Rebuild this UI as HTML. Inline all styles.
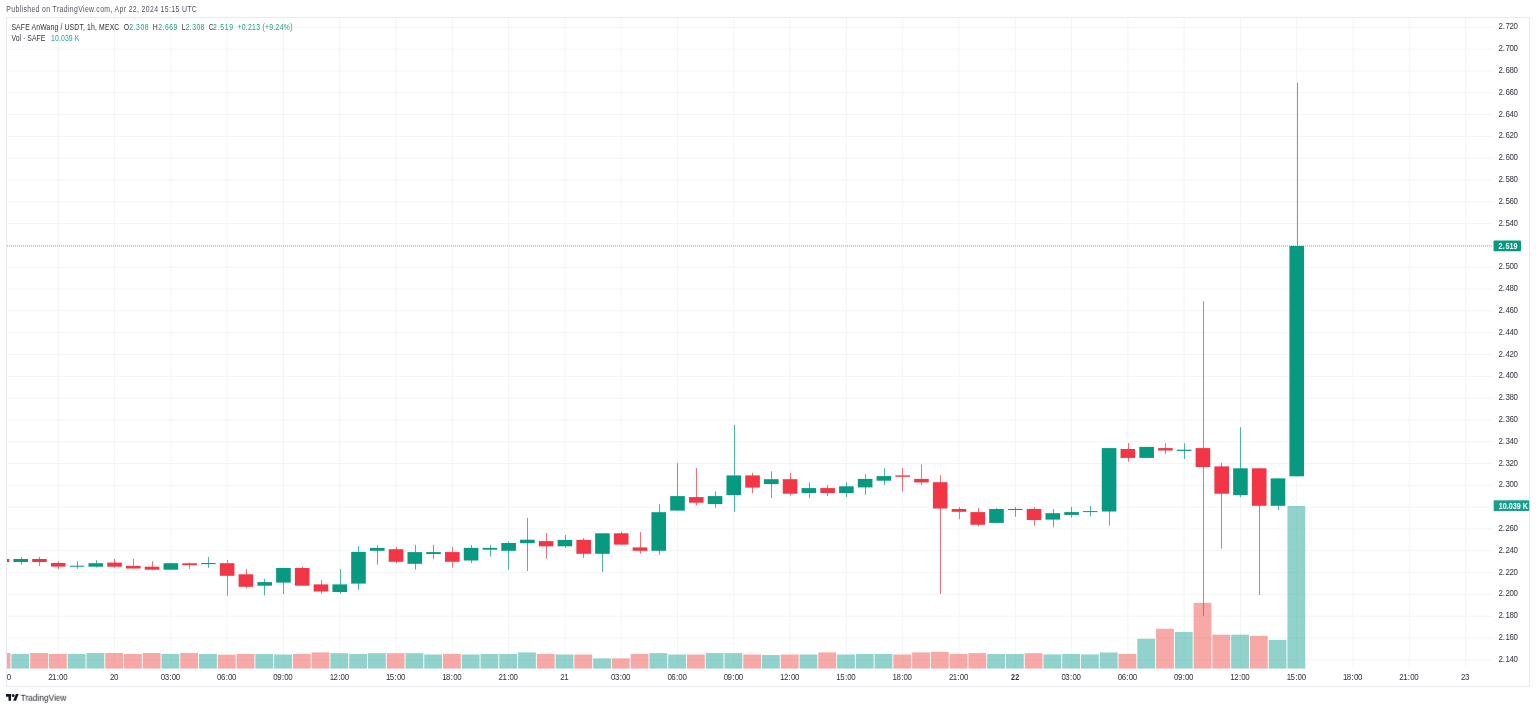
<!DOCTYPE html>
<html><head><meta charset="utf-8"><style>
html,body{margin:0;padding:0;background:#fff;width:1536px;height:709px;overflow:hidden;position:relative}
svg text{font-family:"Liberation Sans",sans-serif}
.ax{font-size:8.6px;fill:#131722}
.axb{font-size:8.6px;fill:#fff;font-weight:bold}
.axb2{font-size:8.6px;fill:#131722;font-weight:bold}
.t{position:absolute;font-family:"Liberation Sans",sans-serif;white-space:nowrap;line-height:1}
.hdr{left:6.7px;top:5px;font-size:8.4px;color:#50535e}
.lg{left:11.7px;font-size:8.4px;color:#131722}
.gr{color:#089981}
.vg{color:#22ab94}
.logo{left:21px;top:694px;font-size:8.4px;color:#131722}
</style></head><body>
<svg width="1536" height="709" viewBox="0 0 1536 709" style="position:absolute;left:0;top:0;will-change:transform">
<defs><clipPath id="pane"><rect x="7" y="18" width="1486" height="650.75"/></clipPath><clipPath id="taxis"><rect x="7" y="669" width="1486" height="17"/></clipPath></defs>
<rect x="6.5" y="17.5" width="1523" height="669" fill="#fff" stroke="#e8eaef" stroke-width="1"/>
<g clip-path="url(#pane)">
<rect x="7" y="26.80" width="1486" height="1" fill="#f3f4f4"/>
<rect x="7" y="48.61" width="1486" height="1" fill="#f3f4f4"/>
<rect x="7" y="70.42" width="1486" height="1" fill="#f3f4f4"/>
<rect x="7" y="92.23" width="1486" height="1" fill="#f3f4f4"/>
<rect x="7" y="114.04" width="1486" height="1" fill="#f3f4f4"/>
<rect x="7" y="135.85" width="1486" height="1" fill="#f3f4f4"/>
<rect x="7" y="157.66" width="1486" height="1" fill="#f3f4f4"/>
<rect x="7" y="179.47" width="1486" height="1" fill="#f3f4f4"/>
<rect x="7" y="201.28" width="1486" height="1" fill="#f3f4f4"/>
<rect x="7" y="223.09" width="1486" height="1" fill="#f3f4f4"/>
<rect x="7" y="244.90" width="1486" height="1" fill="#f3f4f4"/>
<rect x="7" y="266.71" width="1486" height="1" fill="#f3f4f4"/>
<rect x="7" y="288.52" width="1486" height="1" fill="#f3f4f4"/>
<rect x="7" y="310.33" width="1486" height="1" fill="#f3f4f4"/>
<rect x="7" y="332.14" width="1486" height="1" fill="#f3f4f4"/>
<rect x="7" y="353.95" width="1486" height="1" fill="#f3f4f4"/>
<rect x="7" y="375.76" width="1486" height="1" fill="#f3f4f4"/>
<rect x="7" y="397.57" width="1486" height="1" fill="#f3f4f4"/>
<rect x="7" y="419.38" width="1486" height="1" fill="#f3f4f4"/>
<rect x="7" y="441.19" width="1486" height="1" fill="#f3f4f4"/>
<rect x="7" y="463.00" width="1486" height="1" fill="#f3f4f4"/>
<rect x="7" y="484.81" width="1486" height="1" fill="#f3f4f4"/>
<rect x="7" y="506.62" width="1486" height="1" fill="#f3f4f4"/>
<rect x="7" y="528.43" width="1486" height="1" fill="#f3f4f4"/>
<rect x="7" y="550.24" width="1486" height="1" fill="#f3f4f4"/>
<rect x="7" y="572.05" width="1486" height="1" fill="#f3f4f4"/>
<rect x="7" y="593.86" width="1486" height="1" fill="#f3f4f4"/>
<rect x="7" y="615.67" width="1486" height="1" fill="#f3f4f4"/>
<rect x="7" y="637.48" width="1486" height="1" fill="#f3f4f4"/>
<rect x="7" y="659.29" width="1486" height="1" fill="#f3f4f4"/>
<rect x="1.45" y="18" width="1" height="650" fill="#f3f4f4"/>
<rect x="57.75" y="18" width="1" height="650" fill="#f3f4f4"/>
<rect x="114.05" y="18" width="1" height="650" fill="#f3f4f4"/>
<rect x="170.34" y="18" width="1" height="650" fill="#f3f4f4"/>
<rect x="226.63" y="18" width="1" height="650" fill="#f3f4f4"/>
<rect x="282.93" y="18" width="1" height="650" fill="#f3f4f4"/>
<rect x="339.23" y="18" width="1" height="650" fill="#f3f4f4"/>
<rect x="395.52" y="18" width="1" height="650" fill="#f3f4f4"/>
<rect x="451.81" y="18" width="1" height="650" fill="#f3f4f4"/>
<rect x="508.11" y="18" width="1" height="650" fill="#f3f4f4"/>
<rect x="564.40" y="18" width="1" height="650" fill="#f3f4f4"/>
<rect x="620.70" y="18" width="1" height="650" fill="#f3f4f4"/>
<rect x="677.00" y="18" width="1" height="650" fill="#f3f4f4"/>
<rect x="733.29" y="18" width="1" height="650" fill="#f3f4f4"/>
<rect x="789.59" y="18" width="1" height="650" fill="#f3f4f4"/>
<rect x="845.88" y="18" width="1" height="650" fill="#f3f4f4"/>
<rect x="902.18" y="18" width="1" height="650" fill="#f3f4f4"/>
<rect x="958.47" y="18" width="1" height="650" fill="#f3f4f4"/>
<rect x="1014.76" y="18" width="1" height="650" fill="#f3f4f4"/>
<rect x="1071.06" y="18" width="1" height="650" fill="#f3f4f4"/>
<rect x="1127.36" y="18" width="1" height="650" fill="#f3f4f4"/>
<rect x="1183.65" y="18" width="1" height="650" fill="#f3f4f4"/>
<rect x="1239.94" y="18" width="1" height="650" fill="#f3f4f4"/>
<rect x="1296.24" y="18" width="1" height="650" fill="#f3f4f4"/>
<rect x="1352.54" y="18" width="1" height="650" fill="#f3f4f4"/>
<rect x="1408.83" y="18" width="1" height="650" fill="#f3f4f4"/>
<rect x="1465.12" y="18" width="1" height="650" fill="#f3f4f4"/>
<rect x="-7.35" y="653.00" width="17.8" height="15.75" fill="rgba(239,83,80,0.5)"/>
<rect x="11.42" y="654.00" width="17.8" height="14.75" fill="rgba(38,166,154,0.5)"/>
<rect x="30.19" y="653.00" width="17.8" height="15.75" fill="rgba(239,83,80,0.5)"/>
<rect x="48.95" y="654.00" width="17.8" height="14.75" fill="rgba(239,83,80,0.5)"/>
<rect x="67.71" y="654.00" width="17.8" height="14.75" fill="rgba(38,166,154,0.5)"/>
<rect x="86.48" y="653.00" width="17.8" height="15.75" fill="rgba(38,166,154,0.5)"/>
<rect x="105.24" y="653.00" width="17.8" height="15.75" fill="rgba(239,83,80,0.5)"/>
<rect x="124.01" y="654.00" width="17.8" height="14.75" fill="rgba(239,83,80,0.5)"/>
<rect x="142.77" y="653.00" width="17.8" height="15.75" fill="rgba(239,83,80,0.5)"/>
<rect x="161.54" y="654.00" width="17.8" height="14.75" fill="rgba(38,166,154,0.5)"/>
<rect x="180.31" y="653.00" width="17.8" height="15.75" fill="rgba(239,83,80,0.5)"/>
<rect x="199.07" y="654.00" width="17.8" height="14.75" fill="rgba(38,166,154,0.5)"/>
<rect x="217.83" y="654.70" width="17.8" height="14.05" fill="rgba(239,83,80,0.5)"/>
<rect x="236.60" y="654.00" width="17.8" height="14.75" fill="rgba(239,83,80,0.5)"/>
<rect x="255.37" y="654.00" width="17.8" height="14.75" fill="rgba(38,166,154,0.5)"/>
<rect x="274.13" y="654.50" width="17.8" height="14.25" fill="rgba(38,166,154,0.5)"/>
<rect x="292.90" y="654.00" width="17.8" height="14.75" fill="rgba(239,83,80,0.5)"/>
<rect x="311.66" y="652.40" width="17.8" height="16.35" fill="rgba(239,83,80,0.5)"/>
<rect x="330.43" y="653.20" width="17.8" height="15.55" fill="rgba(38,166,154,0.5)"/>
<rect x="349.19" y="654.00" width="17.8" height="14.75" fill="rgba(38,166,154,0.5)"/>
<rect x="367.96" y="653.20" width="17.8" height="15.55" fill="rgba(38,166,154,0.5)"/>
<rect x="386.72" y="653.20" width="17.8" height="15.55" fill="rgba(239,83,80,0.5)"/>
<rect x="405.49" y="653.20" width="17.8" height="15.55" fill="rgba(38,166,154,0.5)"/>
<rect x="424.25" y="654.50" width="17.8" height="14.25" fill="rgba(38,166,154,0.5)"/>
<rect x="443.02" y="654.00" width="17.8" height="14.75" fill="rgba(239,83,80,0.5)"/>
<rect x="461.78" y="654.50" width="17.8" height="14.25" fill="rgba(38,166,154,0.5)"/>
<rect x="480.55" y="654.00" width="17.8" height="14.75" fill="rgba(38,166,154,0.5)"/>
<rect x="499.31" y="654.00" width="17.8" height="14.75" fill="rgba(38,166,154,0.5)"/>
<rect x="518.08" y="652.40" width="17.8" height="16.35" fill="rgba(38,166,154,0.5)"/>
<rect x="536.84" y="654.00" width="17.8" height="14.75" fill="rgba(239,83,80,0.5)"/>
<rect x="555.61" y="654.50" width="17.8" height="14.25" fill="rgba(38,166,154,0.5)"/>
<rect x="574.37" y="654.50" width="17.8" height="14.25" fill="rgba(239,83,80,0.5)"/>
<rect x="593.14" y="658.40" width="17.8" height="10.35" fill="rgba(38,166,154,0.5)"/>
<rect x="611.90" y="658.40" width="17.8" height="10.35" fill="rgba(239,83,80,0.5)"/>
<rect x="630.67" y="654.00" width="17.8" height="14.75" fill="rgba(239,83,80,0.5)"/>
<rect x="649.43" y="653.10" width="17.8" height="15.65" fill="rgba(38,166,154,0.5)"/>
<rect x="668.20" y="654.50" width="17.8" height="14.25" fill="rgba(38,166,154,0.5)"/>
<rect x="686.96" y="654.50" width="17.8" height="14.25" fill="rgba(239,83,80,0.5)"/>
<rect x="705.73" y="653.10" width="17.8" height="15.65" fill="rgba(38,166,154,0.5)"/>
<rect x="724.49" y="653.10" width="17.8" height="15.65" fill="rgba(38,166,154,0.5)"/>
<rect x="743.26" y="654.50" width="17.8" height="14.25" fill="rgba(239,83,80,0.5)"/>
<rect x="762.02" y="655.00" width="17.8" height="13.75" fill="rgba(38,166,154,0.5)"/>
<rect x="780.79" y="654.50" width="17.8" height="14.25" fill="rgba(239,83,80,0.5)"/>
<rect x="799.55" y="654.50" width="17.8" height="14.25" fill="rgba(38,166,154,0.5)"/>
<rect x="818.32" y="652.40" width="17.8" height="16.35" fill="rgba(239,83,80,0.5)"/>
<rect x="837.08" y="654.50" width="17.8" height="14.25" fill="rgba(38,166,154,0.5)"/>
<rect x="855.85" y="654.00" width="17.8" height="14.75" fill="rgba(38,166,154,0.5)"/>
<rect x="874.61" y="654.00" width="17.8" height="14.75" fill="rgba(38,166,154,0.5)"/>
<rect x="893.38" y="654.50" width="17.8" height="14.25" fill="rgba(239,83,80,0.5)"/>
<rect x="912.14" y="652.40" width="17.8" height="16.35" fill="rgba(239,83,80,0.5)"/>
<rect x="930.91" y="651.90" width="17.8" height="16.85" fill="rgba(239,83,80,0.5)"/>
<rect x="949.67" y="654.00" width="17.8" height="14.75" fill="rgba(239,83,80,0.5)"/>
<rect x="968.44" y="653.10" width="17.8" height="15.65" fill="rgba(239,83,80,0.5)"/>
<rect x="987.20" y="654.00" width="17.8" height="14.75" fill="rgba(38,166,154,0.5)"/>
<rect x="1005.97" y="654.00" width="17.8" height="14.75" fill="rgba(38,166,154,0.5)"/>
<rect x="1024.73" y="653.20" width="17.8" height="15.55" fill="rgba(239,83,80,0.5)"/>
<rect x="1043.49" y="654.40" width="17.8" height="14.35" fill="rgba(38,166,154,0.5)"/>
<rect x="1062.26" y="653.90" width="17.8" height="14.85" fill="rgba(38,166,154,0.5)"/>
<rect x="1081.02" y="654.40" width="17.8" height="14.35" fill="rgba(38,166,154,0.5)"/>
<rect x="1099.79" y="652.50" width="17.8" height="16.25" fill="rgba(38,166,154,0.5)"/>
<rect x="1118.55" y="653.90" width="17.8" height="14.85" fill="rgba(239,83,80,0.5)"/>
<rect x="1137.32" y="638.80" width="17.8" height="29.95" fill="rgba(38,166,154,0.5)"/>
<rect x="1156.08" y="628.80" width="17.8" height="39.95" fill="rgba(239,83,80,0.5)"/>
<rect x="1174.85" y="632.00" width="17.8" height="36.75" fill="rgba(38,166,154,0.5)"/>
<rect x="1193.61" y="602.90" width="17.8" height="65.85" fill="rgba(239,83,80,0.5)"/>
<rect x="1212.38" y="634.70" width="17.8" height="34.05" fill="rgba(239,83,80,0.5)"/>
<rect x="1231.14" y="634.70" width="17.8" height="34.05" fill="rgba(38,166,154,0.5)"/>
<rect x="1249.91" y="635.90" width="17.8" height="32.85" fill="rgba(239,83,80,0.5)"/>
<rect x="1268.67" y="639.90" width="17.8" height="28.85" fill="rgba(38,166,154,0.5)"/>
<rect x="1287.44" y="506.00" width="17.8" height="162.75" fill="rgba(38,166,154,0.5)"/>
<line x1="7" y1="246" x2="1493" y2="246" stroke="#089981" stroke-width="1" stroke-dasharray="1 1" opacity="0.6"/>
<rect x="2" y="559.00" width="1" height="3.00" fill="#f23645" opacity="0.72"/>
<rect x="-5.35" y="559.00" width="14.6" height="3.00" fill="#f23645"/>
<rect x="21" y="557.00" width="1" height="7.70" fill="#089981" opacity="0.72"/>
<rect x="13.42" y="559.00" width="14.6" height="3.00" fill="#089981"/>
<rect x="39" y="557.00" width="1" height="9.00" fill="#f23645" opacity="0.72"/>
<rect x="32.19" y="559.00" width="14.6" height="3.00" fill="#f23645"/>
<rect x="58" y="561.30" width="1" height="7.60" fill="#f23645" opacity="0.72"/>
<rect x="50.95" y="563.00" width="14.6" height="3.60" fill="#f23645"/>
<rect x="77" y="561.25" width="1" height="7.55" fill="#089981" opacity="0.72"/>
<rect x="69.72" y="565.70" width="14.6" height="1.00" fill="#089981"/>
<rect x="96" y="560.20" width="1" height="7.30" fill="#089981" opacity="0.72"/>
<rect x="88.48" y="563.20" width="14.6" height="3.50" fill="#089981"/>
<rect x="114" y="558.90" width="1" height="8.90" fill="#f23645" opacity="0.72"/>
<rect x="107.25" y="562.60" width="14.6" height="4.10" fill="#f23645"/>
<rect x="133" y="558.90" width="1" height="9.60" fill="#f23645" opacity="0.72"/>
<rect x="126.01" y="565.90" width="14.6" height="2.60" fill="#f23645"/>
<rect x="152" y="561.25" width="1" height="8.45" fill="#f23645" opacity="0.72"/>
<rect x="144.77" y="566.70" width="14.6" height="3.00" fill="#f23645"/>
<rect x="171" y="563.20" width="1" height="6.50" fill="#089981" opacity="0.72"/>
<rect x="163.54" y="563.20" width="14.6" height="6.50" fill="#089981"/>
<rect x="189" y="562.30" width="1" height="6.50" fill="#f23645" opacity="0.72"/>
<rect x="182.31" y="563.30" width="14.6" height="1.90" fill="#f23645"/>
<rect x="208" y="557.00" width="1" height="10.80" fill="#089981" opacity="0.72"/>
<rect x="201.07" y="563.00" width="14.6" height="1.10" fill="#089981"/>
<rect x="227" y="560.00" width="1" height="35.80" fill="#f23645" opacity="0.72"/>
<rect x="219.83" y="563.20" width="14.6" height="12.60" fill="#f23645"/>
<rect x="246" y="569.00" width="1" height="19.30" fill="#f23645" opacity="0.72"/>
<rect x="238.60" y="574.30" width="14.6" height="12.50" fill="#f23645"/>
<rect x="264" y="578.80" width="1" height="16.60" fill="#089981" opacity="0.72"/>
<rect x="257.37" y="582.10" width="14.6" height="3.60" fill="#089981"/>
<rect x="283" y="568.00" width="1" height="26.00" fill="#089981" opacity="0.72"/>
<rect x="276.13" y="568.00" width="14.6" height="14.60" fill="#089981"/>
<rect x="302" y="566.50" width="1" height="19.20" fill="#f23645" opacity="0.72"/>
<rect x="294.89" y="568.00" width="14.6" height="17.70" fill="#f23645"/>
<rect x="321" y="579.90" width="1" height="13.90" fill="#f23645" opacity="0.72"/>
<rect x="313.66" y="584.40" width="14.6" height="7.10" fill="#f23645"/>
<rect x="340" y="569.00" width="1" height="24.80" fill="#089981" opacity="0.72"/>
<rect x="332.43" y="584.40" width="14.6" height="7.60" fill="#089981"/>
<rect x="358" y="546.00" width="1" height="43.90" fill="#089981" opacity="0.72"/>
<rect x="351.19" y="551.90" width="14.6" height="31.70" fill="#089981"/>
<rect x="377" y="544.90" width="1" height="19.60" fill="#089981" opacity="0.72"/>
<rect x="369.95" y="547.90" width="14.6" height="2.90" fill="#089981"/>
<rect x="396" y="547.10" width="1" height="16.10" fill="#f23645" opacity="0.72"/>
<rect x="388.72" y="549.20" width="14.6" height="12.60" fill="#f23645"/>
<rect x="415" y="544.90" width="1" height="24.80" fill="#089981" opacity="0.72"/>
<rect x="407.49" y="552.10" width="14.6" height="11.70" fill="#089981"/>
<rect x="433" y="544.90" width="1" height="14.00" fill="#089981" opacity="0.72"/>
<rect x="426.25" y="552.10" width="14.6" height="1.90" fill="#089981"/>
<rect x="452" y="547.10" width="1" height="20.60" fill="#f23645" opacity="0.72"/>
<rect x="445.01" y="552.10" width="14.6" height="9.70" fill="#f23645"/>
<rect x="471" y="544.90" width="1" height="18.30" fill="#089981" opacity="0.72"/>
<rect x="463.78" y="547.90" width="14.6" height="12.60" fill="#089981"/>
<rect x="490" y="544.90" width="1" height="11.70" fill="#089981" opacity="0.72"/>
<rect x="482.55" y="547.90" width="14.6" height="1.80" fill="#089981"/>
<rect x="508" y="541.40" width="1" height="28.30" fill="#089981" opacity="0.72"/>
<rect x="501.31" y="543.00" width="14.6" height="7.80" fill="#089981"/>
<rect x="527" y="518.00" width="1" height="53.00" fill="#089981" opacity="0.72"/>
<rect x="520.08" y="539.70" width="14.6" height="3.50" fill="#089981"/>
<rect x="546" y="532.90" width="1" height="25.80" fill="#f23645" opacity="0.72"/>
<rect x="538.84" y="541.10" width="14.6" height="5.20" fill="#f23645"/>
<rect x="565" y="535.00" width="1" height="12.70" fill="#089981" opacity="0.72"/>
<rect x="557.61" y="539.90" width="14.6" height="6.40" fill="#089981"/>
<rect x="583" y="538.10" width="1" height="19.90" fill="#f23645" opacity="0.72"/>
<rect x="576.37" y="539.90" width="14.6" height="13.90" fill="#f23645"/>
<rect x="602" y="533.30" width="1" height="38.70" fill="#089981" opacity="0.72"/>
<rect x="595.14" y="533.30" width="14.6" height="20.50" fill="#089981"/>
<rect x="621" y="531.90" width="1" height="12.70" fill="#f23645" opacity="0.72"/>
<rect x="613.90" y="533.30" width="14.6" height="11.30" fill="#f23645"/>
<rect x="640" y="531.90" width="1" height="21.70" fill="#f23645" opacity="0.72"/>
<rect x="632.67" y="547.40" width="14.6" height="3.40" fill="#f23645"/>
<rect x="659" y="504.30" width="1" height="50.50" fill="#089981" opacity="0.72"/>
<rect x="651.43" y="512.20" width="14.6" height="38.60" fill="#089981"/>
<rect x="677" y="463.20" width="1" height="47.40" fill="#089981" opacity="0.72"/>
<rect x="670.20" y="496.10" width="14.6" height="14.50" fill="#089981"/>
<rect x="696" y="467.90" width="1" height="37.40" fill="#f23645" opacity="0.72"/>
<rect x="688.96" y="497.10" width="14.6" height="5.60" fill="#f23645"/>
<rect x="715" y="491.40" width="1" height="16.40" fill="#089981" opacity="0.72"/>
<rect x="707.73" y="496.10" width="14.6" height="8.00" fill="#089981"/>
<rect x="734" y="424.90" width="1" height="87.10" fill="#089981" opacity="0.72"/>
<rect x="726.49" y="475.40" width="14.6" height="19.60" fill="#089981"/>
<rect x="752" y="472.80" width="1" height="20.50" fill="#f23645" opacity="0.72"/>
<rect x="745.26" y="475.40" width="14.6" height="12.20" fill="#f23645"/>
<rect x="771" y="471.40" width="1" height="26.50" fill="#089981" opacity="0.72"/>
<rect x="764.02" y="479.20" width="14.6" height="4.90" fill="#089981"/>
<rect x="790" y="472.80" width="1" height="22.90" fill="#f23645" opacity="0.72"/>
<rect x="782.79" y="479.20" width="14.6" height="14.50" fill="#f23645"/>
<rect x="809" y="482.40" width="1" height="15.50" fill="#089981" opacity="0.72"/>
<rect x="801.55" y="488.10" width="14.6" height="4.90" fill="#089981"/>
<rect x="827" y="484.80" width="1" height="11.30" fill="#f23645" opacity="0.72"/>
<rect x="820.32" y="488.10" width="14.6" height="4.90" fill="#f23645"/>
<rect x="846" y="482.50" width="1" height="14.50" fill="#089981" opacity="0.72"/>
<rect x="839.08" y="486.30" width="14.6" height="6.70" fill="#089981"/>
<rect x="865" y="474.30" width="1" height="20.60" fill="#089981" opacity="0.72"/>
<rect x="857.85" y="478.90" width="14.6" height="8.50" fill="#089981"/>
<rect x="884" y="468.30" width="1" height="16.70" fill="#089981" opacity="0.72"/>
<rect x="876.61" y="476.10" width="14.6" height="4.60" fill="#089981"/>
<rect x="902" y="468.00" width="1" height="23.60" fill="#f23645" opacity="0.72"/>
<rect x="895.38" y="475.40" width="14.6" height="1.40" fill="#f23645"/>
<rect x="921" y="464.40" width="1" height="20.60" fill="#f23645" opacity="0.72"/>
<rect x="914.14" y="478.90" width="14.6" height="3.50" fill="#f23645"/>
<rect x="940" y="475.40" width="1" height="118.60" fill="#f23645" opacity="0.72"/>
<rect x="932.91" y="482.20" width="14.6" height="26.30" fill="#f23645"/>
<rect x="959" y="507.10" width="1" height="12.00" fill="#f23645" opacity="0.72"/>
<rect x="951.67" y="509.00" width="14.6" height="2.80" fill="#f23645"/>
<rect x="978" y="508.10" width="1" height="18.10" fill="#f23645" opacity="0.72"/>
<rect x="970.44" y="512.10" width="14.6" height="12.65" fill="#f23645"/>
<rect x="996" y="508.10" width="1" height="14.80" fill="#089981" opacity="0.72"/>
<rect x="989.20" y="509.00" width="14.6" height="13.90" fill="#089981"/>
<rect x="1015" y="507.10" width="1" height="9.50" fill="#089981" opacity="0.72"/>
<rect x="1007.97" y="509.00" width="14.6" height="1.00" fill="#089981"/>
<rect x="1034" y="507.30" width="1" height="18.60" fill="#f23645" opacity="0.72"/>
<rect x="1026.73" y="509.00" width="14.6" height="11.00" fill="#f23645"/>
<rect x="1053" y="509.00" width="1" height="18.30" fill="#089981" opacity="0.72"/>
<rect x="1045.50" y="513.20" width="14.6" height="6.40" fill="#089981"/>
<rect x="1071" y="506.90" width="1" height="10.80" fill="#089981" opacity="0.72"/>
<rect x="1064.26" y="512.10" width="14.6" height="2.80" fill="#089981"/>
<rect x="1090" y="505.90" width="1" height="10.40" fill="#089981" opacity="0.72"/>
<rect x="1083.03" y="511.10" width="14.6" height="1.00" fill="#089981"/>
<rect x="1109" y="448.10" width="1" height="77.50" fill="#089981" opacity="0.72"/>
<rect x="1101.79" y="448.10" width="14.6" height="63.40" fill="#089981"/>
<rect x="1128" y="443.00" width="1" height="18.70" fill="#f23645" opacity="0.72"/>
<rect x="1120.56" y="449.00" width="14.6" height="8.90" fill="#f23645"/>
<rect x="1146" y="446.90" width="1" height="11.00" fill="#089981" opacity="0.72"/>
<rect x="1139.32" y="446.90" width="14.6" height="11.00" fill="#089981"/>
<rect x="1165" y="443.00" width="1" height="11.00" fill="#f23645" opacity="0.72"/>
<rect x="1158.09" y="448.10" width="14.6" height="2.40" fill="#f23645"/>
<rect x="1184" y="443.40" width="1" height="15.50" fill="#089981" opacity="0.72"/>
<rect x="1176.85" y="449.70" width="14.6" height="1.20" fill="#089981"/>
<rect x="1203" y="301.30" width="1" height="314.50" fill="#f23645" opacity="0.72"/>
<rect x="1195.62" y="448.10" width="14.6" height="18.90" fill="#f23645"/>
<rect x="1221" y="462.90" width="1" height="85.80" fill="#f23645" opacity="0.72"/>
<rect x="1214.38" y="466.40" width="14.6" height="27.30" fill="#f23645"/>
<rect x="1240" y="427.20" width="1" height="70.00" fill="#089981" opacity="0.72"/>
<rect x="1233.14" y="468.30" width="14.6" height="26.80" fill="#089981"/>
<rect x="1259" y="468.30" width="1" height="126.70" fill="#f23645" opacity="0.72"/>
<rect x="1251.91" y="468.30" width="14.6" height="37.50" fill="#f23645"/>
<rect x="1278" y="478.40" width="1" height="31.40" fill="#089981" opacity="0.72"/>
<rect x="1270.68" y="478.40" width="14.6" height="27.40" fill="#089981"/>
<rect x="1297" y="82.70" width="1" height="393.60" fill="#089981" opacity="0.72"/>
<rect x="1289.44" y="246.00" width="14.6" height="230.30" fill="#089981"/>
</g>
<text transform="translate(1500.65,29.40) scale(0.860,1)" text-anchor="middle" fill="#30333c" font-size="9.2" font-weight="normal">2</text><text transform="translate(1503.75,29.40) scale(0.860,1)" text-anchor="middle" fill="#30333c" font-size="9.2" font-weight="normal">.</text><text transform="translate(1507.60,29.40) scale(0.860,1)" text-anchor="middle" fill="#30333c" font-size="9.2" font-weight="normal">7</text><text transform="translate(1511.65,29.40) scale(0.860,1)" text-anchor="middle" fill="#30333c" font-size="9.2" font-weight="normal">2</text><text transform="translate(1515.70,29.40) scale(0.860,1)" text-anchor="middle" fill="#30333c" font-size="9.2" font-weight="normal">0</text>
<text transform="translate(1500.65,51.21) scale(0.860,1)" text-anchor="middle" fill="#30333c" font-size="9.2" font-weight="normal">2</text><text transform="translate(1503.75,51.21) scale(0.860,1)" text-anchor="middle" fill="#30333c" font-size="9.2" font-weight="normal">.</text><text transform="translate(1507.60,51.21) scale(0.860,1)" text-anchor="middle" fill="#30333c" font-size="9.2" font-weight="normal">7</text><text transform="translate(1511.65,51.21) scale(0.860,1)" text-anchor="middle" fill="#30333c" font-size="9.2" font-weight="normal">0</text><text transform="translate(1515.70,51.21) scale(0.860,1)" text-anchor="middle" fill="#30333c" font-size="9.2" font-weight="normal">0</text>
<text transform="translate(1500.65,73.02) scale(0.860,1)" text-anchor="middle" fill="#30333c" font-size="9.2" font-weight="normal">2</text><text transform="translate(1503.75,73.02) scale(0.860,1)" text-anchor="middle" fill="#30333c" font-size="9.2" font-weight="normal">.</text><text transform="translate(1507.60,73.02) scale(0.860,1)" text-anchor="middle" fill="#30333c" font-size="9.2" font-weight="normal">6</text><text transform="translate(1511.65,73.02) scale(0.860,1)" text-anchor="middle" fill="#30333c" font-size="9.2" font-weight="normal">8</text><text transform="translate(1515.70,73.02) scale(0.860,1)" text-anchor="middle" fill="#30333c" font-size="9.2" font-weight="normal">0</text>
<text transform="translate(1500.65,94.83) scale(0.860,1)" text-anchor="middle" fill="#30333c" font-size="9.2" font-weight="normal">2</text><text transform="translate(1503.75,94.83) scale(0.860,1)" text-anchor="middle" fill="#30333c" font-size="9.2" font-weight="normal">.</text><text transform="translate(1507.60,94.83) scale(0.860,1)" text-anchor="middle" fill="#30333c" font-size="9.2" font-weight="normal">6</text><text transform="translate(1511.65,94.83) scale(0.860,1)" text-anchor="middle" fill="#30333c" font-size="9.2" font-weight="normal">6</text><text transform="translate(1515.70,94.83) scale(0.860,1)" text-anchor="middle" fill="#30333c" font-size="9.2" font-weight="normal">0</text>
<text transform="translate(1500.65,116.64) scale(0.860,1)" text-anchor="middle" fill="#30333c" font-size="9.2" font-weight="normal">2</text><text transform="translate(1503.75,116.64) scale(0.860,1)" text-anchor="middle" fill="#30333c" font-size="9.2" font-weight="normal">.</text><text transform="translate(1507.60,116.64) scale(0.860,1)" text-anchor="middle" fill="#30333c" font-size="9.2" font-weight="normal">6</text><text transform="translate(1511.65,116.64) scale(0.860,1)" text-anchor="middle" fill="#30333c" font-size="9.2" font-weight="normal">4</text><text transform="translate(1515.70,116.64) scale(0.860,1)" text-anchor="middle" fill="#30333c" font-size="9.2" font-weight="normal">0</text>
<text transform="translate(1500.65,138.45) scale(0.860,1)" text-anchor="middle" fill="#30333c" font-size="9.2" font-weight="normal">2</text><text transform="translate(1503.75,138.45) scale(0.860,1)" text-anchor="middle" fill="#30333c" font-size="9.2" font-weight="normal">.</text><text transform="translate(1507.60,138.45) scale(0.860,1)" text-anchor="middle" fill="#30333c" font-size="9.2" font-weight="normal">6</text><text transform="translate(1511.65,138.45) scale(0.860,1)" text-anchor="middle" fill="#30333c" font-size="9.2" font-weight="normal">2</text><text transform="translate(1515.70,138.45) scale(0.860,1)" text-anchor="middle" fill="#30333c" font-size="9.2" font-weight="normal">0</text>
<text transform="translate(1500.65,160.26) scale(0.860,1)" text-anchor="middle" fill="#30333c" font-size="9.2" font-weight="normal">2</text><text transform="translate(1503.75,160.26) scale(0.860,1)" text-anchor="middle" fill="#30333c" font-size="9.2" font-weight="normal">.</text><text transform="translate(1507.60,160.26) scale(0.860,1)" text-anchor="middle" fill="#30333c" font-size="9.2" font-weight="normal">6</text><text transform="translate(1511.65,160.26) scale(0.860,1)" text-anchor="middle" fill="#30333c" font-size="9.2" font-weight="normal">0</text><text transform="translate(1515.70,160.26) scale(0.860,1)" text-anchor="middle" fill="#30333c" font-size="9.2" font-weight="normal">0</text>
<text transform="translate(1500.65,182.07) scale(0.860,1)" text-anchor="middle" fill="#30333c" font-size="9.2" font-weight="normal">2</text><text transform="translate(1503.75,182.07) scale(0.860,1)" text-anchor="middle" fill="#30333c" font-size="9.2" font-weight="normal">.</text><text transform="translate(1507.60,182.07) scale(0.860,1)" text-anchor="middle" fill="#30333c" font-size="9.2" font-weight="normal">5</text><text transform="translate(1511.65,182.07) scale(0.860,1)" text-anchor="middle" fill="#30333c" font-size="9.2" font-weight="normal">8</text><text transform="translate(1515.70,182.07) scale(0.860,1)" text-anchor="middle" fill="#30333c" font-size="9.2" font-weight="normal">0</text>
<text transform="translate(1500.65,203.88) scale(0.860,1)" text-anchor="middle" fill="#30333c" font-size="9.2" font-weight="normal">2</text><text transform="translate(1503.75,203.88) scale(0.860,1)" text-anchor="middle" fill="#30333c" font-size="9.2" font-weight="normal">.</text><text transform="translate(1507.60,203.88) scale(0.860,1)" text-anchor="middle" fill="#30333c" font-size="9.2" font-weight="normal">5</text><text transform="translate(1511.65,203.88) scale(0.860,1)" text-anchor="middle" fill="#30333c" font-size="9.2" font-weight="normal">6</text><text transform="translate(1515.70,203.88) scale(0.860,1)" text-anchor="middle" fill="#30333c" font-size="9.2" font-weight="normal">0</text>
<text transform="translate(1500.65,225.69) scale(0.860,1)" text-anchor="middle" fill="#30333c" font-size="9.2" font-weight="normal">2</text><text transform="translate(1503.75,225.69) scale(0.860,1)" text-anchor="middle" fill="#30333c" font-size="9.2" font-weight="normal">.</text><text transform="translate(1507.60,225.69) scale(0.860,1)" text-anchor="middle" fill="#30333c" font-size="9.2" font-weight="normal">5</text><text transform="translate(1511.65,225.69) scale(0.860,1)" text-anchor="middle" fill="#30333c" font-size="9.2" font-weight="normal">4</text><text transform="translate(1515.70,225.69) scale(0.860,1)" text-anchor="middle" fill="#30333c" font-size="9.2" font-weight="normal">0</text>
<text transform="translate(1500.65,269.31) scale(0.860,1)" text-anchor="middle" fill="#30333c" font-size="9.2" font-weight="normal">2</text><text transform="translate(1503.75,269.31) scale(0.860,1)" text-anchor="middle" fill="#30333c" font-size="9.2" font-weight="normal">.</text><text transform="translate(1507.60,269.31) scale(0.860,1)" text-anchor="middle" fill="#30333c" font-size="9.2" font-weight="normal">5</text><text transform="translate(1511.65,269.31) scale(0.860,1)" text-anchor="middle" fill="#30333c" font-size="9.2" font-weight="normal">0</text><text transform="translate(1515.70,269.31) scale(0.860,1)" text-anchor="middle" fill="#30333c" font-size="9.2" font-weight="normal">0</text>
<text transform="translate(1500.65,291.12) scale(0.860,1)" text-anchor="middle" fill="#30333c" font-size="9.2" font-weight="normal">2</text><text transform="translate(1503.75,291.12) scale(0.860,1)" text-anchor="middle" fill="#30333c" font-size="9.2" font-weight="normal">.</text><text transform="translate(1507.60,291.12) scale(0.860,1)" text-anchor="middle" fill="#30333c" font-size="9.2" font-weight="normal">4</text><text transform="translate(1511.65,291.12) scale(0.860,1)" text-anchor="middle" fill="#30333c" font-size="9.2" font-weight="normal">8</text><text transform="translate(1515.70,291.12) scale(0.860,1)" text-anchor="middle" fill="#30333c" font-size="9.2" font-weight="normal">0</text>
<text transform="translate(1500.65,312.93) scale(0.860,1)" text-anchor="middle" fill="#30333c" font-size="9.2" font-weight="normal">2</text><text transform="translate(1503.75,312.93) scale(0.860,1)" text-anchor="middle" fill="#30333c" font-size="9.2" font-weight="normal">.</text><text transform="translate(1507.60,312.93) scale(0.860,1)" text-anchor="middle" fill="#30333c" font-size="9.2" font-weight="normal">4</text><text transform="translate(1511.65,312.93) scale(0.860,1)" text-anchor="middle" fill="#30333c" font-size="9.2" font-weight="normal">6</text><text transform="translate(1515.70,312.93) scale(0.860,1)" text-anchor="middle" fill="#30333c" font-size="9.2" font-weight="normal">0</text>
<text transform="translate(1500.65,334.74) scale(0.860,1)" text-anchor="middle" fill="#30333c" font-size="9.2" font-weight="normal">2</text><text transform="translate(1503.75,334.74) scale(0.860,1)" text-anchor="middle" fill="#30333c" font-size="9.2" font-weight="normal">.</text><text transform="translate(1507.60,334.74) scale(0.860,1)" text-anchor="middle" fill="#30333c" font-size="9.2" font-weight="normal">4</text><text transform="translate(1511.65,334.74) scale(0.860,1)" text-anchor="middle" fill="#30333c" font-size="9.2" font-weight="normal">4</text><text transform="translate(1515.70,334.74) scale(0.860,1)" text-anchor="middle" fill="#30333c" font-size="9.2" font-weight="normal">0</text>
<text transform="translate(1500.65,356.55) scale(0.860,1)" text-anchor="middle" fill="#30333c" font-size="9.2" font-weight="normal">2</text><text transform="translate(1503.75,356.55) scale(0.860,1)" text-anchor="middle" fill="#30333c" font-size="9.2" font-weight="normal">.</text><text transform="translate(1507.60,356.55) scale(0.860,1)" text-anchor="middle" fill="#30333c" font-size="9.2" font-weight="normal">4</text><text transform="translate(1511.65,356.55) scale(0.860,1)" text-anchor="middle" fill="#30333c" font-size="9.2" font-weight="normal">2</text><text transform="translate(1515.70,356.55) scale(0.860,1)" text-anchor="middle" fill="#30333c" font-size="9.2" font-weight="normal">0</text>
<text transform="translate(1500.65,378.36) scale(0.860,1)" text-anchor="middle" fill="#30333c" font-size="9.2" font-weight="normal">2</text><text transform="translate(1503.75,378.36) scale(0.860,1)" text-anchor="middle" fill="#30333c" font-size="9.2" font-weight="normal">.</text><text transform="translate(1507.60,378.36) scale(0.860,1)" text-anchor="middle" fill="#30333c" font-size="9.2" font-weight="normal">4</text><text transform="translate(1511.65,378.36) scale(0.860,1)" text-anchor="middle" fill="#30333c" font-size="9.2" font-weight="normal">0</text><text transform="translate(1515.70,378.36) scale(0.860,1)" text-anchor="middle" fill="#30333c" font-size="9.2" font-weight="normal">0</text>
<text transform="translate(1500.65,400.17) scale(0.860,1)" text-anchor="middle" fill="#30333c" font-size="9.2" font-weight="normal">2</text><text transform="translate(1503.75,400.17) scale(0.860,1)" text-anchor="middle" fill="#30333c" font-size="9.2" font-weight="normal">.</text><text transform="translate(1507.60,400.17) scale(0.860,1)" text-anchor="middle" fill="#30333c" font-size="9.2" font-weight="normal">3</text><text transform="translate(1511.65,400.17) scale(0.860,1)" text-anchor="middle" fill="#30333c" font-size="9.2" font-weight="normal">8</text><text transform="translate(1515.70,400.17) scale(0.860,1)" text-anchor="middle" fill="#30333c" font-size="9.2" font-weight="normal">0</text>
<text transform="translate(1500.65,421.98) scale(0.860,1)" text-anchor="middle" fill="#30333c" font-size="9.2" font-weight="normal">2</text><text transform="translate(1503.75,421.98) scale(0.860,1)" text-anchor="middle" fill="#30333c" font-size="9.2" font-weight="normal">.</text><text transform="translate(1507.60,421.98) scale(0.860,1)" text-anchor="middle" fill="#30333c" font-size="9.2" font-weight="normal">3</text><text transform="translate(1511.65,421.98) scale(0.860,1)" text-anchor="middle" fill="#30333c" font-size="9.2" font-weight="normal">6</text><text transform="translate(1515.70,421.98) scale(0.860,1)" text-anchor="middle" fill="#30333c" font-size="9.2" font-weight="normal">0</text>
<text transform="translate(1500.65,443.79) scale(0.860,1)" text-anchor="middle" fill="#30333c" font-size="9.2" font-weight="normal">2</text><text transform="translate(1503.75,443.79) scale(0.860,1)" text-anchor="middle" fill="#30333c" font-size="9.2" font-weight="normal">.</text><text transform="translate(1507.60,443.79) scale(0.860,1)" text-anchor="middle" fill="#30333c" font-size="9.2" font-weight="normal">3</text><text transform="translate(1511.65,443.79) scale(0.860,1)" text-anchor="middle" fill="#30333c" font-size="9.2" font-weight="normal">4</text><text transform="translate(1515.70,443.79) scale(0.860,1)" text-anchor="middle" fill="#30333c" font-size="9.2" font-weight="normal">0</text>
<text transform="translate(1500.65,465.60) scale(0.860,1)" text-anchor="middle" fill="#30333c" font-size="9.2" font-weight="normal">2</text><text transform="translate(1503.75,465.60) scale(0.860,1)" text-anchor="middle" fill="#30333c" font-size="9.2" font-weight="normal">.</text><text transform="translate(1507.60,465.60) scale(0.860,1)" text-anchor="middle" fill="#30333c" font-size="9.2" font-weight="normal">3</text><text transform="translate(1511.65,465.60) scale(0.860,1)" text-anchor="middle" fill="#30333c" font-size="9.2" font-weight="normal">2</text><text transform="translate(1515.70,465.60) scale(0.860,1)" text-anchor="middle" fill="#30333c" font-size="9.2" font-weight="normal">0</text>
<text transform="translate(1500.65,487.41) scale(0.860,1)" text-anchor="middle" fill="#30333c" font-size="9.2" font-weight="normal">2</text><text transform="translate(1503.75,487.41) scale(0.860,1)" text-anchor="middle" fill="#30333c" font-size="9.2" font-weight="normal">.</text><text transform="translate(1507.60,487.41) scale(0.860,1)" text-anchor="middle" fill="#30333c" font-size="9.2" font-weight="normal">3</text><text transform="translate(1511.65,487.41) scale(0.860,1)" text-anchor="middle" fill="#30333c" font-size="9.2" font-weight="normal">0</text><text transform="translate(1515.70,487.41) scale(0.860,1)" text-anchor="middle" fill="#30333c" font-size="9.2" font-weight="normal">0</text>
<text transform="translate(1500.65,531.03) scale(0.860,1)" text-anchor="middle" fill="#30333c" font-size="9.2" font-weight="normal">2</text><text transform="translate(1503.75,531.03) scale(0.860,1)" text-anchor="middle" fill="#30333c" font-size="9.2" font-weight="normal">.</text><text transform="translate(1507.60,531.03) scale(0.860,1)" text-anchor="middle" fill="#30333c" font-size="9.2" font-weight="normal">2</text><text transform="translate(1511.65,531.03) scale(0.860,1)" text-anchor="middle" fill="#30333c" font-size="9.2" font-weight="normal">6</text><text transform="translate(1515.70,531.03) scale(0.860,1)" text-anchor="middle" fill="#30333c" font-size="9.2" font-weight="normal">0</text>
<text transform="translate(1500.65,552.84) scale(0.860,1)" text-anchor="middle" fill="#30333c" font-size="9.2" font-weight="normal">2</text><text transform="translate(1503.75,552.84) scale(0.860,1)" text-anchor="middle" fill="#30333c" font-size="9.2" font-weight="normal">.</text><text transform="translate(1507.60,552.84) scale(0.860,1)" text-anchor="middle" fill="#30333c" font-size="9.2" font-weight="normal">2</text><text transform="translate(1511.65,552.84) scale(0.860,1)" text-anchor="middle" fill="#30333c" font-size="9.2" font-weight="normal">4</text><text transform="translate(1515.70,552.84) scale(0.860,1)" text-anchor="middle" fill="#30333c" font-size="9.2" font-weight="normal">0</text>
<text transform="translate(1500.65,574.65) scale(0.860,1)" text-anchor="middle" fill="#30333c" font-size="9.2" font-weight="normal">2</text><text transform="translate(1503.75,574.65) scale(0.860,1)" text-anchor="middle" fill="#30333c" font-size="9.2" font-weight="normal">.</text><text transform="translate(1507.60,574.65) scale(0.860,1)" text-anchor="middle" fill="#30333c" font-size="9.2" font-weight="normal">2</text><text transform="translate(1511.65,574.65) scale(0.860,1)" text-anchor="middle" fill="#30333c" font-size="9.2" font-weight="normal">2</text><text transform="translate(1515.70,574.65) scale(0.860,1)" text-anchor="middle" fill="#30333c" font-size="9.2" font-weight="normal">0</text>
<text transform="translate(1500.65,596.46) scale(0.860,1)" text-anchor="middle" fill="#30333c" font-size="9.2" font-weight="normal">2</text><text transform="translate(1503.75,596.46) scale(0.860,1)" text-anchor="middle" fill="#30333c" font-size="9.2" font-weight="normal">.</text><text transform="translate(1507.60,596.46) scale(0.860,1)" text-anchor="middle" fill="#30333c" font-size="9.2" font-weight="normal">2</text><text transform="translate(1511.65,596.46) scale(0.860,1)" text-anchor="middle" fill="#30333c" font-size="9.2" font-weight="normal">0</text><text transform="translate(1515.70,596.46) scale(0.860,1)" text-anchor="middle" fill="#30333c" font-size="9.2" font-weight="normal">0</text>
<text transform="translate(1500.65,618.27) scale(0.860,1)" text-anchor="middle" fill="#30333c" font-size="9.2" font-weight="normal">2</text><text transform="translate(1503.75,618.27) scale(0.860,1)" text-anchor="middle" fill="#30333c" font-size="9.2" font-weight="normal">.</text><text transform="translate(1507.60,618.27) scale(0.860,1)" text-anchor="middle" fill="#30333c" font-size="9.2" font-weight="normal">1</text><text transform="translate(1511.65,618.27) scale(0.860,1)" text-anchor="middle" fill="#30333c" font-size="9.2" font-weight="normal">8</text><text transform="translate(1515.70,618.27) scale(0.860,1)" text-anchor="middle" fill="#30333c" font-size="9.2" font-weight="normal">0</text>
<text transform="translate(1500.65,640.08) scale(0.860,1)" text-anchor="middle" fill="#30333c" font-size="9.2" font-weight="normal">2</text><text transform="translate(1503.75,640.08) scale(0.860,1)" text-anchor="middle" fill="#30333c" font-size="9.2" font-weight="normal">.</text><text transform="translate(1507.60,640.08) scale(0.860,1)" text-anchor="middle" fill="#30333c" font-size="9.2" font-weight="normal">1</text><text transform="translate(1511.65,640.08) scale(0.860,1)" text-anchor="middle" fill="#30333c" font-size="9.2" font-weight="normal">6</text><text transform="translate(1515.70,640.08) scale(0.860,1)" text-anchor="middle" fill="#30333c" font-size="9.2" font-weight="normal">0</text>
<text transform="translate(1500.65,661.89) scale(0.860,1)" text-anchor="middle" fill="#30333c" font-size="9.2" font-weight="normal">2</text><text transform="translate(1503.75,661.89) scale(0.860,1)" text-anchor="middle" fill="#30333c" font-size="9.2" font-weight="normal">.</text><text transform="translate(1507.60,661.89) scale(0.860,1)" text-anchor="middle" fill="#30333c" font-size="9.2" font-weight="normal">1</text><text transform="translate(1511.65,661.89) scale(0.860,1)" text-anchor="middle" fill="#30333c" font-size="9.2" font-weight="normal">4</text><text transform="translate(1515.70,661.89) scale(0.860,1)" text-anchor="middle" fill="#30333c" font-size="9.2" font-weight="normal">0</text>
<rect x="1493.5" y="240.5" width="27.5" height="10.8" rx="1" fill="#089981"/>
<text transform="translate(1500.55,249.20) scale(0.780,1)" text-anchor="middle" fill="#fff" font-size="9.2" font-weight="bold">2</text><text transform="translate(1503.65,249.20) scale(0.780,1)" text-anchor="middle" fill="#fff" font-size="9.2" font-weight="bold">.</text><text transform="translate(1507.50,249.20) scale(0.780,1)" text-anchor="middle" fill="#fff" font-size="9.2" font-weight="bold">5</text><text transform="translate(1511.55,249.20) scale(0.780,1)" text-anchor="middle" fill="#fff" font-size="9.2" font-weight="bold">1</text><text transform="translate(1515.60,249.20) scale(0.780,1)" text-anchor="middle" fill="#fff" font-size="9.2" font-weight="bold">9</text>
<rect x="1493.7" y="500.3" width="35.5" height="10.7" fill="#1a9e8e"/>
<text transform="translate(1498.64,508.90) scale(0.7853,1)" x="0" y="0" fill="#fff" font-size="9.2" font-weight="bold" textLength="37.34" lengthAdjust="spacing">10.039 K</text>
<g clip-path="url(#taxis)">
<text transform="translate(-5.94,680.00) scale(0.900,1)" text-anchor="middle" fill="#30333c" font-size="8.8" font-weight="normal">1</text><text transform="translate(-2.04,680.00) scale(0.900,1)" text-anchor="middle" fill="#30333c" font-size="8.8" font-weight="normal">8</text><text transform="translate(1.56,680.00) scale(0.900,1)" text-anchor="middle" fill="#30333c" font-size="8.8" font-weight="normal">:</text><text transform="translate(5.01,680.00) scale(0.900,1)" text-anchor="middle" fill="#30333c" font-size="8.8" font-weight="normal">0</text><text transform="translate(9.06,680.00) scale(0.900,1)" text-anchor="middle" fill="#30333c" font-size="8.8" font-weight="normal">0</text>
<text transform="translate(50.36,680.00) scale(0.900,1)" text-anchor="middle" fill="#30333c" font-size="8.8" font-weight="normal">2</text><text transform="translate(54.26,680.00) scale(0.900,1)" text-anchor="middle" fill="#30333c" font-size="8.8" font-weight="normal">1</text><text transform="translate(57.86,680.00) scale(0.900,1)" text-anchor="middle" fill="#30333c" font-size="8.8" font-weight="normal">:</text><text transform="translate(61.31,680.00) scale(0.900,1)" text-anchor="middle" fill="#30333c" font-size="8.8" font-weight="normal">0</text><text transform="translate(65.36,680.00) scale(0.900,1)" text-anchor="middle" fill="#30333c" font-size="8.8" font-weight="normal">0</text>
<text transform="translate(112.14,680.00) scale(0.900,1)" text-anchor="middle" fill="#30333c" font-size="8.8" font-weight="normal">2</text><text transform="translate(116.14,680.00) scale(0.900,1)" text-anchor="middle" fill="#30333c" font-size="8.8" font-weight="normal">0</text>
<text transform="translate(162.95,680.00) scale(0.900,1)" text-anchor="middle" fill="#30333c" font-size="8.8" font-weight="normal">0</text><text transform="translate(166.85,680.00) scale(0.900,1)" text-anchor="middle" fill="#30333c" font-size="8.8" font-weight="normal">3</text><text transform="translate(170.45,680.00) scale(0.900,1)" text-anchor="middle" fill="#30333c" font-size="8.8" font-weight="normal">:</text><text transform="translate(173.90,680.00) scale(0.900,1)" text-anchor="middle" fill="#30333c" font-size="8.8" font-weight="normal">0</text><text transform="translate(177.95,680.00) scale(0.900,1)" text-anchor="middle" fill="#30333c" font-size="8.8" font-weight="normal">0</text>
<text transform="translate(219.25,680.00) scale(0.900,1)" text-anchor="middle" fill="#30333c" font-size="8.8" font-weight="normal">0</text><text transform="translate(223.14,680.00) scale(0.900,1)" text-anchor="middle" fill="#30333c" font-size="8.8" font-weight="normal">6</text><text transform="translate(226.75,680.00) scale(0.900,1)" text-anchor="middle" fill="#30333c" font-size="8.8" font-weight="normal">:</text><text transform="translate(230.19,680.00) scale(0.900,1)" text-anchor="middle" fill="#30333c" font-size="8.8" font-weight="normal">0</text><text transform="translate(234.25,680.00) scale(0.900,1)" text-anchor="middle" fill="#30333c" font-size="8.8" font-weight="normal">0</text>
<text transform="translate(275.54,680.00) scale(0.900,1)" text-anchor="middle" fill="#30333c" font-size="8.8" font-weight="normal">0</text><text transform="translate(279.44,680.00) scale(0.900,1)" text-anchor="middle" fill="#30333c" font-size="8.8" font-weight="normal">9</text><text transform="translate(283.04,680.00) scale(0.900,1)" text-anchor="middle" fill="#30333c" font-size="8.8" font-weight="normal">:</text><text transform="translate(286.49,680.00) scale(0.900,1)" text-anchor="middle" fill="#30333c" font-size="8.8" font-weight="normal">0</text><text transform="translate(290.54,680.00) scale(0.900,1)" text-anchor="middle" fill="#30333c" font-size="8.8" font-weight="normal">0</text>
<text transform="translate(331.84,680.00) scale(0.900,1)" text-anchor="middle" fill="#30333c" font-size="8.8" font-weight="normal">1</text><text transform="translate(335.74,680.00) scale(0.900,1)" text-anchor="middle" fill="#30333c" font-size="8.8" font-weight="normal">2</text><text transform="translate(339.34,680.00) scale(0.900,1)" text-anchor="middle" fill="#30333c" font-size="8.8" font-weight="normal">:</text><text transform="translate(342.79,680.00) scale(0.900,1)" text-anchor="middle" fill="#30333c" font-size="8.8" font-weight="normal">0</text><text transform="translate(346.84,680.00) scale(0.900,1)" text-anchor="middle" fill="#30333c" font-size="8.8" font-weight="normal">0</text>
<text transform="translate(388.13,680.00) scale(0.900,1)" text-anchor="middle" fill="#30333c" font-size="8.8" font-weight="normal">1</text><text transform="translate(392.03,680.00) scale(0.900,1)" text-anchor="middle" fill="#30333c" font-size="8.8" font-weight="normal">5</text><text transform="translate(395.63,680.00) scale(0.900,1)" text-anchor="middle" fill="#30333c" font-size="8.8" font-weight="normal">:</text><text transform="translate(399.08,680.00) scale(0.900,1)" text-anchor="middle" fill="#30333c" font-size="8.8" font-weight="normal">0</text><text transform="translate(403.13,680.00) scale(0.900,1)" text-anchor="middle" fill="#30333c" font-size="8.8" font-weight="normal">0</text>
<text transform="translate(444.43,680.00) scale(0.900,1)" text-anchor="middle" fill="#30333c" font-size="8.8" font-weight="normal">1</text><text transform="translate(448.32,680.00) scale(0.900,1)" text-anchor="middle" fill="#30333c" font-size="8.8" font-weight="normal">8</text><text transform="translate(451.93,680.00) scale(0.900,1)" text-anchor="middle" fill="#30333c" font-size="8.8" font-weight="normal">:</text><text transform="translate(455.38,680.00) scale(0.900,1)" text-anchor="middle" fill="#30333c" font-size="8.8" font-weight="normal">0</text><text transform="translate(459.43,680.00) scale(0.900,1)" text-anchor="middle" fill="#30333c" font-size="8.8" font-weight="normal">0</text>
<text transform="translate(500.72,680.00) scale(0.900,1)" text-anchor="middle" fill="#30333c" font-size="8.8" font-weight="normal">2</text><text transform="translate(504.62,680.00) scale(0.900,1)" text-anchor="middle" fill="#30333c" font-size="8.8" font-weight="normal">1</text><text transform="translate(508.22,680.00) scale(0.900,1)" text-anchor="middle" fill="#30333c" font-size="8.8" font-weight="normal">:</text><text transform="translate(511.67,680.00) scale(0.900,1)" text-anchor="middle" fill="#30333c" font-size="8.8" font-weight="normal">0</text><text transform="translate(515.72,680.00) scale(0.900,1)" text-anchor="middle" fill="#30333c" font-size="8.8" font-weight="normal">0</text>
<text transform="translate(562.50,680.00) scale(0.900,1)" text-anchor="middle" fill="#30333c" font-size="8.8" font-weight="normal">2</text><text transform="translate(566.50,680.00) scale(0.900,1)" text-anchor="middle" fill="#30333c" font-size="8.8" font-weight="normal">1</text>
<text transform="translate(613.31,680.00) scale(0.900,1)" text-anchor="middle" fill="#30333c" font-size="8.8" font-weight="normal">0</text><text transform="translate(617.21,680.00) scale(0.900,1)" text-anchor="middle" fill="#30333c" font-size="8.8" font-weight="normal">3</text><text transform="translate(620.81,680.00) scale(0.900,1)" text-anchor="middle" fill="#30333c" font-size="8.8" font-weight="normal">:</text><text transform="translate(624.26,680.00) scale(0.900,1)" text-anchor="middle" fill="#30333c" font-size="8.8" font-weight="normal">0</text><text transform="translate(628.31,680.00) scale(0.900,1)" text-anchor="middle" fill="#30333c" font-size="8.8" font-weight="normal">0</text>
<text transform="translate(669.61,680.00) scale(0.900,1)" text-anchor="middle" fill="#30333c" font-size="8.8" font-weight="normal">0</text><text transform="translate(673.50,680.00) scale(0.900,1)" text-anchor="middle" fill="#30333c" font-size="8.8" font-weight="normal">6</text><text transform="translate(677.11,680.00) scale(0.900,1)" text-anchor="middle" fill="#30333c" font-size="8.8" font-weight="normal">:</text><text transform="translate(680.55,680.00) scale(0.900,1)" text-anchor="middle" fill="#30333c" font-size="8.8" font-weight="normal">0</text><text transform="translate(684.61,680.00) scale(0.900,1)" text-anchor="middle" fill="#30333c" font-size="8.8" font-weight="normal">0</text>
<text transform="translate(725.90,680.00) scale(0.900,1)" text-anchor="middle" fill="#30333c" font-size="8.8" font-weight="normal">0</text><text transform="translate(729.80,680.00) scale(0.900,1)" text-anchor="middle" fill="#30333c" font-size="8.8" font-weight="normal">9</text><text transform="translate(733.40,680.00) scale(0.900,1)" text-anchor="middle" fill="#30333c" font-size="8.8" font-weight="normal">:</text><text transform="translate(736.85,680.00) scale(0.900,1)" text-anchor="middle" fill="#30333c" font-size="8.8" font-weight="normal">0</text><text transform="translate(740.90,680.00) scale(0.900,1)" text-anchor="middle" fill="#30333c" font-size="8.8" font-weight="normal">0</text>
<text transform="translate(782.20,680.00) scale(0.900,1)" text-anchor="middle" fill="#30333c" font-size="8.8" font-weight="normal">1</text><text transform="translate(786.10,680.00) scale(0.900,1)" text-anchor="middle" fill="#30333c" font-size="8.8" font-weight="normal">2</text><text transform="translate(789.70,680.00) scale(0.900,1)" text-anchor="middle" fill="#30333c" font-size="8.8" font-weight="normal">:</text><text transform="translate(793.14,680.00) scale(0.900,1)" text-anchor="middle" fill="#30333c" font-size="8.8" font-weight="normal">0</text><text transform="translate(797.20,680.00) scale(0.900,1)" text-anchor="middle" fill="#30333c" font-size="8.8" font-weight="normal">0</text>
<text transform="translate(838.49,680.00) scale(0.900,1)" text-anchor="middle" fill="#30333c" font-size="8.8" font-weight="normal">1</text><text transform="translate(842.39,680.00) scale(0.900,1)" text-anchor="middle" fill="#30333c" font-size="8.8" font-weight="normal">5</text><text transform="translate(845.99,680.00) scale(0.900,1)" text-anchor="middle" fill="#30333c" font-size="8.8" font-weight="normal">:</text><text transform="translate(849.44,680.00) scale(0.900,1)" text-anchor="middle" fill="#30333c" font-size="8.8" font-weight="normal">0</text><text transform="translate(853.49,680.00) scale(0.900,1)" text-anchor="middle" fill="#30333c" font-size="8.8" font-weight="normal">0</text>
<text transform="translate(894.79,680.00) scale(0.900,1)" text-anchor="middle" fill="#30333c" font-size="8.8" font-weight="normal">1</text><text transform="translate(898.69,680.00) scale(0.900,1)" text-anchor="middle" fill="#30333c" font-size="8.8" font-weight="normal">8</text><text transform="translate(902.29,680.00) scale(0.900,1)" text-anchor="middle" fill="#30333c" font-size="8.8" font-weight="normal">:</text><text transform="translate(905.74,680.00) scale(0.900,1)" text-anchor="middle" fill="#30333c" font-size="8.8" font-weight="normal">0</text><text transform="translate(909.79,680.00) scale(0.900,1)" text-anchor="middle" fill="#30333c" font-size="8.8" font-weight="normal">0</text>
<text transform="translate(951.08,680.00) scale(0.900,1)" text-anchor="middle" fill="#30333c" font-size="8.8" font-weight="normal">2</text><text transform="translate(954.98,680.00) scale(0.900,1)" text-anchor="middle" fill="#30333c" font-size="8.8" font-weight="normal">1</text><text transform="translate(958.58,680.00) scale(0.900,1)" text-anchor="middle" fill="#30333c" font-size="8.8" font-weight="normal">:</text><text transform="translate(962.03,680.00) scale(0.900,1)" text-anchor="middle" fill="#30333c" font-size="8.8" font-weight="normal">0</text><text transform="translate(966.08,680.00) scale(0.900,1)" text-anchor="middle" fill="#30333c" font-size="8.8" font-weight="normal">0</text>
<text transform="translate(1013.01,680.00) scale(0.820,1)" text-anchor="middle" fill="#30333c" font-size="8.8" font-weight="bold">2</text><text transform="translate(1017.31,680.00) scale(0.820,1)" text-anchor="middle" fill="#30333c" font-size="8.8" font-weight="bold">2</text>
<text transform="translate(1063.67,680.00) scale(0.900,1)" text-anchor="middle" fill="#30333c" font-size="8.8" font-weight="normal">0</text><text transform="translate(1067.57,680.00) scale(0.900,1)" text-anchor="middle" fill="#30333c" font-size="8.8" font-weight="normal">3</text><text transform="translate(1071.17,680.00) scale(0.900,1)" text-anchor="middle" fill="#30333c" font-size="8.8" font-weight="normal">:</text><text transform="translate(1074.62,680.00) scale(0.900,1)" text-anchor="middle" fill="#30333c" font-size="8.8" font-weight="normal">0</text><text transform="translate(1078.67,680.00) scale(0.900,1)" text-anchor="middle" fill="#30333c" font-size="8.8" font-weight="normal">0</text>
<text transform="translate(1119.96,680.00) scale(0.900,1)" text-anchor="middle" fill="#30333c" font-size="8.8" font-weight="normal">0</text><text transform="translate(1123.87,680.00) scale(0.900,1)" text-anchor="middle" fill="#30333c" font-size="8.8" font-weight="normal">6</text><text transform="translate(1127.46,680.00) scale(0.900,1)" text-anchor="middle" fill="#30333c" font-size="8.8" font-weight="normal">:</text><text transform="translate(1130.91,680.00) scale(0.900,1)" text-anchor="middle" fill="#30333c" font-size="8.8" font-weight="normal">0</text><text transform="translate(1134.96,680.00) scale(0.900,1)" text-anchor="middle" fill="#30333c" font-size="8.8" font-weight="normal">0</text>
<text transform="translate(1176.26,680.00) scale(0.900,1)" text-anchor="middle" fill="#30333c" font-size="8.8" font-weight="normal">0</text><text transform="translate(1180.16,680.00) scale(0.900,1)" text-anchor="middle" fill="#30333c" font-size="8.8" font-weight="normal">9</text><text transform="translate(1183.76,680.00) scale(0.900,1)" text-anchor="middle" fill="#30333c" font-size="8.8" font-weight="normal">:</text><text transform="translate(1187.21,680.00) scale(0.900,1)" text-anchor="middle" fill="#30333c" font-size="8.8" font-weight="normal">0</text><text transform="translate(1191.26,680.00) scale(0.900,1)" text-anchor="middle" fill="#30333c" font-size="8.8" font-weight="normal">0</text>
<text transform="translate(1232.55,680.00) scale(0.900,1)" text-anchor="middle" fill="#30333c" font-size="8.8" font-weight="normal">1</text><text transform="translate(1236.45,680.00) scale(0.900,1)" text-anchor="middle" fill="#30333c" font-size="8.8" font-weight="normal">2</text><text transform="translate(1240.05,680.00) scale(0.900,1)" text-anchor="middle" fill="#30333c" font-size="8.8" font-weight="normal">:</text><text transform="translate(1243.50,680.00) scale(0.900,1)" text-anchor="middle" fill="#30333c" font-size="8.8" font-weight="normal">0</text><text transform="translate(1247.55,680.00) scale(0.900,1)" text-anchor="middle" fill="#30333c" font-size="8.8" font-weight="normal">0</text>
<text transform="translate(1288.85,680.00) scale(0.900,1)" text-anchor="middle" fill="#30333c" font-size="8.8" font-weight="normal">1</text><text transform="translate(1292.75,680.00) scale(0.900,1)" text-anchor="middle" fill="#30333c" font-size="8.8" font-weight="normal">5</text><text transform="translate(1296.35,680.00) scale(0.900,1)" text-anchor="middle" fill="#30333c" font-size="8.8" font-weight="normal">:</text><text transform="translate(1299.80,680.00) scale(0.900,1)" text-anchor="middle" fill="#30333c" font-size="8.8" font-weight="normal">0</text><text transform="translate(1303.85,680.00) scale(0.900,1)" text-anchor="middle" fill="#30333c" font-size="8.8" font-weight="normal">0</text>
<text transform="translate(1345.14,680.00) scale(0.900,1)" text-anchor="middle" fill="#30333c" font-size="8.8" font-weight="normal">1</text><text transform="translate(1349.05,680.00) scale(0.900,1)" text-anchor="middle" fill="#30333c" font-size="8.8" font-weight="normal">8</text><text transform="translate(1352.64,680.00) scale(0.900,1)" text-anchor="middle" fill="#30333c" font-size="8.8" font-weight="normal">:</text><text transform="translate(1356.10,680.00) scale(0.900,1)" text-anchor="middle" fill="#30333c" font-size="8.8" font-weight="normal">0</text><text transform="translate(1360.14,680.00) scale(0.900,1)" text-anchor="middle" fill="#30333c" font-size="8.8" font-weight="normal">0</text>
<text transform="translate(1401.44,680.00) scale(0.900,1)" text-anchor="middle" fill="#30333c" font-size="8.8" font-weight="normal">2</text><text transform="translate(1405.34,680.00) scale(0.900,1)" text-anchor="middle" fill="#30333c" font-size="8.8" font-weight="normal">1</text><text transform="translate(1408.94,680.00) scale(0.900,1)" text-anchor="middle" fill="#30333c" font-size="8.8" font-weight="normal">:</text><text transform="translate(1412.39,680.00) scale(0.900,1)" text-anchor="middle" fill="#30333c" font-size="8.8" font-weight="normal">0</text><text transform="translate(1416.44,680.00) scale(0.900,1)" text-anchor="middle" fill="#30333c" font-size="8.8" font-weight="normal">0</text>
<text transform="translate(1463.22,680.00) scale(0.900,1)" text-anchor="middle" fill="#30333c" font-size="8.8" font-weight="normal">2</text><text transform="translate(1467.22,680.00) scale(0.900,1)" text-anchor="middle" fill="#30333c" font-size="8.8" font-weight="normal">3</text>
</g>
<text transform="translate(6.36,12.06) scale(0.8000,1)" x="0" y="0" fill="#50535e" font-size="8.6" font-weight="normal" textLength="237.98" lengthAdjust="spacing">Published on TradingView.com, Apr 22, 2024 15:15 UTC</text>
<text transform="translate(11.41,29.70) scale(0.8000,1)" x="0" y="0" fill="#30333c" font-size="8.6" font-weight="normal" textLength="134.86" lengthAdjust="spacing">SAFE AnWang / USDT, 1h, MEXC</text>
<text transform="translate(123.81,29.70) scale(0.8000,1)" x="0" y="0" fill="#30333c" font-size="8.6" font-weight="normal" textLength="7.42" lengthAdjust="spacing">O</text>
<text transform="translate(129.36,29.70) scale(0.8000,1)" x="0" y="0" fill="#1e9e88" font-size="8.6" font-weight="normal" textLength="23.98" lengthAdjust="spacing">2.308</text>
<text transform="translate(152.81,29.70) scale(0.8000,1)" x="0" y="0" fill="#30333c" font-size="8.6" font-weight="normal" textLength="7.42" lengthAdjust="spacing">H</text>
<text transform="translate(158.36,29.70) scale(0.8000,1)" x="0" y="0" fill="#1e9e88" font-size="8.6" font-weight="normal" textLength="23.61" lengthAdjust="spacing">2.669</text>
<text transform="translate(181.81,29.70) scale(0.8000,1)" x="0" y="0" fill="#30333c" font-size="8.6" font-weight="normal" textLength="5.67" lengthAdjust="spacing">L</text>
<text transform="translate(185.66,29.70) scale(0.8000,1)" x="0" y="0" fill="#1e9e88" font-size="8.6" font-weight="normal" textLength="23.48" lengthAdjust="spacing">2.308</text>
<text transform="translate(208.67,29.70) scale(0.7662,1)" x="0" y="0" fill="#30333c" font-size="8.6" font-weight="normal" textLength="6.21" lengthAdjust="spacing">C</text>
<text transform="translate(213.06,29.70) scale(0.8000,1)" x="0" y="0" fill="#1e9e88" font-size="8.6" font-weight="normal" textLength="25.05" lengthAdjust="spacing">2.519</text>
<text transform="translate(237.41,29.70) scale(0.8000,1)" x="0" y="0" fill="#1e9e88" font-size="8.6" font-weight="normal" textLength="68.80" lengthAdjust="spacing">+0.213 (+9.24%)</text>
<text transform="translate(11.41,40.70) scale(0.8000,1)" x="0" y="0" fill="#30333c" font-size="8.6" font-weight="normal" textLength="42.55" lengthAdjust="spacing">Vol · SAFE</text>
<text transform="translate(51.06,40.70) scale(0.8000,1)" x="0" y="0" fill="#22ab94" font-size="8.6" font-weight="normal" textLength="35.48" lengthAdjust="spacing">10.039 K</text>
<text transform="translate(20.68,700.80) scale(0.9684,1)" x="0" y="0" fill="#20232b" font-size="8.6" font-weight="normal" textLength="47.33" lengthAdjust="spacing">TradingView</text>
</svg>
<svg style="position:absolute;left:6.17px;top:693.95px" width="12.7" height="6.8" viewBox="0 4 35.5 18" preserveAspectRatio="none"><path d="M14 22H7V11H0V4h14v18z" fill="#131722"/><circle cx="20" cy="8" r="4" fill="#131722"/><path d="M28 22h-8l7.5-18h8z" fill="#131722"/></svg>
</body></html>
